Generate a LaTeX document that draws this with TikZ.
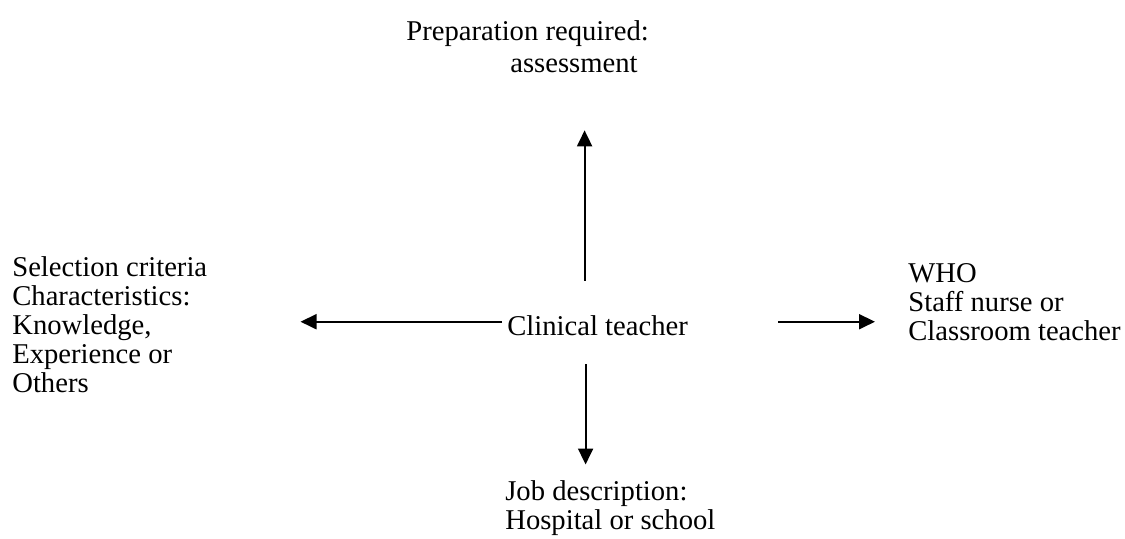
\documentclass[tikz,border=0pt]{standalone}
\usepackage{fontspec}
\setmainfont{Liberation Serif}
\usetikzlibrary{arrows.meta, calc}

\begin{document}
\begin{tikzpicture}[
  x=0.02cm, y=-0.02cm,
  font=\fontsize{16.3}{16.5}\selectfont,
  texte/.style={
    align=left,
    inner sep=0pt,
    anchor=north west
  },
  fleche/.style={
    arrows={-Triangle[length=0.32cm, width=0.3cm]},
    draw=black, line width=1.1pt
  }
]
\useasboundingbox (0,0) rectangle (1125,538);

% ----- Centre -----
\node[texte] (teacher) at (507, 315.5) {Clinical teacher};

% ----- Four sides -----
\node[texte] (prep) at (406, 20.5)
  {Preparation required:\\[0.06cm]
   \hspace*{2.08cm}assessment};

\node[texte] (criteria) at (12, 256.5)
  {Selection criteria\\
   Characteristics:\\
   Knowledge,\\
   Experience or\\
   Others};

\node[texte] (who) at (908, 262.7)
  {WHO\\
   Staff nurse or\\
   Classroom teacher};

\node[texte] (job) at (505, 480.5)
  {Job description:\\
   Hospital or school};

\draw[fleche] ($(teacher.north)+(-13,-35)$) -- ($(teacher.north |- prep.south)+(-13,57)$);
\draw[fleche] ($(teacher.south)+(-12,28)$) -- ($(teacher.south |- job.north)+(-12,-16)$);
\draw[fleche] ($(teacher.base west)+(-5,-14)$) -- ($(criteria.east |- teacher.base)+(93,-14)$);
\draw[fleche] ($(teacher.base east)+(90,-14)$) -- ($(who.west |- teacher.base)+(-33,-14)$);

\end{tikzpicture}
\end{document}
